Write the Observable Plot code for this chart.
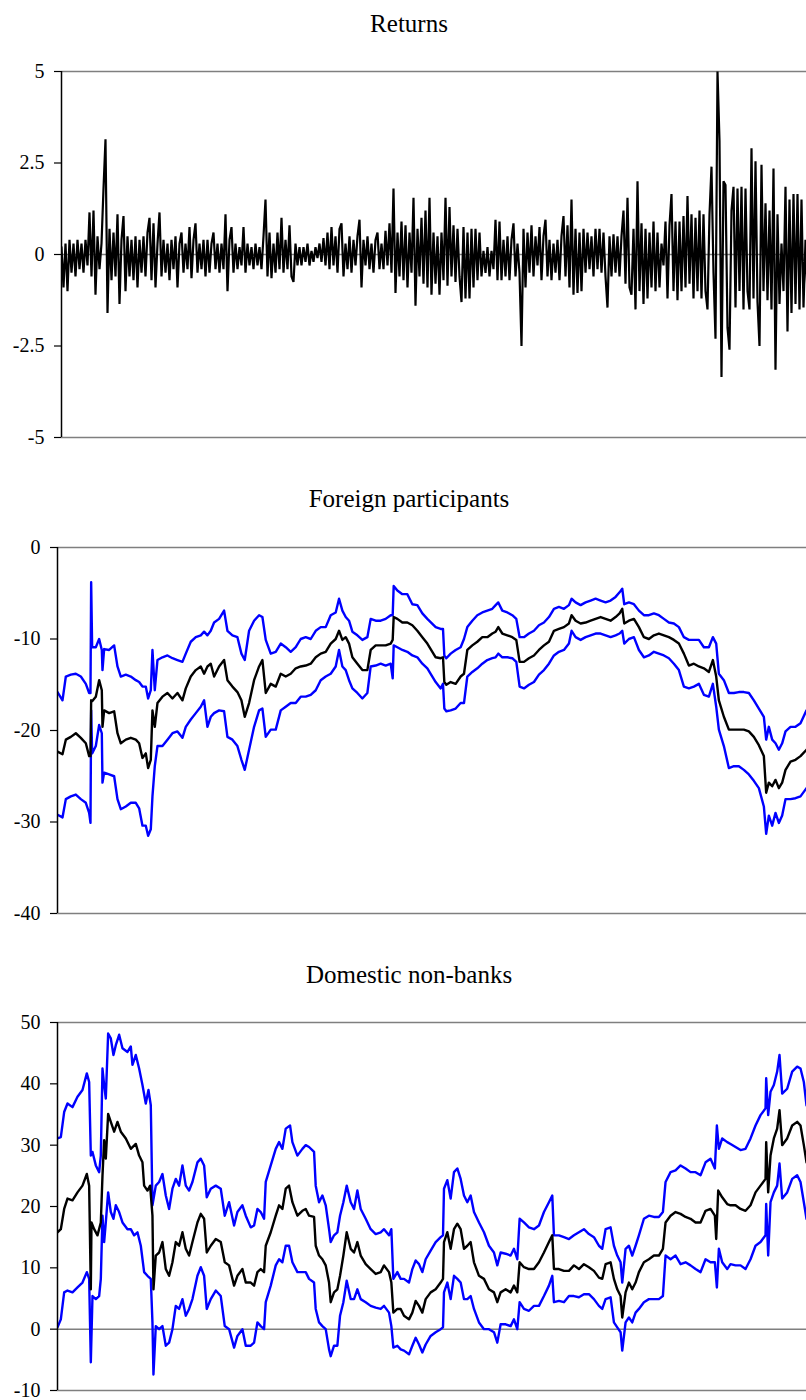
<!DOCTYPE html>
<html>
<head>
<meta charset="utf-8">
<script src="https://cdn.jsdelivr.net/npm/d3@7"></script>
<script src="https://cdn.jsdelivr.net/npm/@observablehq/plot@0.6"></script>
<style>
  html, body { margin: 0; padding: 0; background: #fff; }
  #wrap { position: relative; width: 806px; height: 1400px; overflow: hidden; background: #fff; }
  .title { position: absolute; left: 0; width: 818px; text-align: center; font-family: "Liberation Serif", "Times New Roman", serif; font-size: 25px; line-height: 25px; color: #000; }
  .panel { position: absolute; left: 0; }
</style>
</head>
<body>
<div id="wrap">
  <div class="title" style="top:11px">Returns</div>
  <div class="title" style="top:486px">Foreign participants</div>
  <div class="title" style="top:962px">Domestic non-banks</div>
  <div class="panel" id="p1" style="top:50px"></div>
  <div class="panel" id="p2" style="top:526px"></div>
  <div class="panel" id="p3" style="top:1001px"></div>
</div>
<script>
// ---------- DATA ----------
const titles = ["Returns", "Foreign participants", "Domestic non-banks"];

// Daily returns (observation index = position in array)
const returns = [
  0.2, -0.9, 0.3, -1.0, 0.4, -0.5, 0.3, -0.6, 0.4, -0.4,
  0.3, -0.5, 0.4, -0.3, 1.15, -0.6, 1.2, -1.1, 0.5, -0.4,
  0.3, 1.8, 3.15, -1.6, 0.7, -0.7, 0.6, -0.6, 1.1, -1.35,
  0.4, 1.05, -1.0, 0.5, -0.6, 0.4, -0.7, 0.5, -0.9, 0.4,
  -0.5, 0.5, -0.6, 0.6, 1.0, -0.7, 0.85, -0.9, 0.3, 1.15,
  -0.6, 0.4, -0.5, 0.3, -0.7, 0.4, -0.4, 0.5, -0.9, 0.3,
  0.6, -0.5, 0.3, -0.4, 0.75, -0.65, 0.4, 0.85, -0.5, 0.3,
  -0.4, 0.4, -0.6, 0.4, -0.5, 0.3, 0.6, -0.4, 0.3, -0.5,
  0.3, -0.4, 1.1, -1.0, 0.4, 0.75, -0.5, 0.3, -0.4, 0.2,
  -0.3, 0.75, -0.5, 0.3, -0.3, 0.2, -0.4, 0.3, -0.3, 0.2,
  -0.4, 0.5, 1.5, -0.6, 0.6, -0.65, 0.3, -0.5, 0.6, -0.4,
  1.0, -0.5, 0.4, -0.4, 0.8, -0.6, -0.75, 0.3, -0.3, 0.2,
  -0.3, 0.2, -0.2, 0.3, -0.3, 0.1, -0.2, 0.2, -0.1, 0.3,
  -0.2, 0.45, -0.3, 0.6, -0.4, 0.75, -0.3, 0.5, -0.5, 0.7,
  0.85, -0.6, 0.3, -0.4, 0.5, -0.5, 0.4, -0.3, 0.5, 0.95,
  -0.9, 0.4, -0.3, 0.5, -0.4, 0.3, -0.5, 0.4, 0.6, -0.4,
  0.3, -0.4, 0.65, -0.3, 0.85, -0.5, 1.8, -1.05, 0.6, -0.6,
  0.9, -0.7, 0.8, -0.9, 0.6, -0.5, 1.55, -1.4, 0.7, -0.6,
  1.0, -0.8, 1.2, -0.9, 1.55, -1.1, 0.6, -0.8, 0.5, -1.1,
  0.6, -0.7, 1.55, -0.85, 1.3, -0.6, 0.8, -0.75, 0.7, -0.6,
  -1.3, 0.75, -1.2, 0.6, -1.2, 0.7, -0.9, 0.7, -0.7, 0.6,
  -0.6, 0.1, -0.5, 0.2, -0.6, 0.1, -0.4, 0.95, -0.7, 0.9,
  -0.7, 0.4, -0.6, 0.5, -0.7, 0.4, 0.85, -0.6, 0.3, -0.5,
  -2.5, 0.7, -0.9, 0.6, -0.5, 0.8, -0.6, 0.5, -0.3, 0.75,
  -0.7, 0.5, 0.95, -0.6, 0.4, -0.7, 0.3, -0.5, 0.4, -0.7,
  0.5, 1.05, -0.6, 0.8, -0.9, 1.5, -1.1, 0.7, -1.05, 0.6,
  -1.0, 0.7, -0.5, 0.6, -0.4, 0.5, -0.6, 0.7, -0.4, 0.7,
  -0.5, 0.6, -0.6, -1.45, 0.5, -0.6, 0.55, -0.5, 0.5, -0.6,
  0.5, 1.2, -0.8, 1.55, -0.9, -1.1, 0.7, -1.5, 2.0, -1.0,
  0.85, -1.35, 0.7, -1.2, 0.6, -0.9, 0.9, -1.0, 0.6, -0.9,
  0.3, -0.3, 0.9, -1.2, 0.8, 1.65, -1.0, 0.9, -1.25, 0.9,
  -1.0, 1.05, -0.9, 1.6, -0.8, 1.1, -1.2, 1.0, -1.0, 1.2,
  -1.2, 1.1, -1.0, -1.5, 1.1, 2.4, -0.5, -2.3, 5.0, 3.1,
  -3.35, 2.0, 1.9, -2.0, -2.6, 1.2, 1.85, -1.45, 1.8, -1.0,
  1.85, -1.5, 1.8, -1.0, -1.5, 2.9, -1.2, 2.55, -1.3, -2.5,
  2.45, -1.0, 1.4, -1.25, 1.2, -1.5, 2.35, -3.15, 1.1, -1.35,
  0.3, -1.0, 1.85, -2.1, 1.5, -1.6, 1.65, -1.35, 1.65, -1.5, 1.5, -1.45, 0.4, -1.1
];

// Foreign participants: [day, value]
const foreignMid = [[0,-22.3],[15,-22.6],[25,-21.0],[40,-20.7],[55,-20.3],[70,-20.8],[85,-21.4],[95,-22.8],[99,-22.8],[101,-16.7],[104,-16.8],[115,-16.3],[125,-14.5],[133,-15.6],[135,-19.6],[140,-17.8],[155,-18.1],[170,-17.9],[180,-20.3],[190,-21.4],[205,-21.0],[220,-20.8],[235,-21.0],[245,-21.4],[255,-23.0],[265,-22.5],[272,-24.1],[280,-23.2],[285,-17.8],[292,-19.6],[300,-17.0],[315,-16.3],[330,-15.9],[345,-16.5],[360,-15.9],[375,-16.7],[385,-15.4],[400,-14.1],[415,-13.4],[430,-13.0],[440,-13.8],[450,-13.0],[460,-12.7],[470,-14.1],[485,-13.0],[500,-12.3],[510,-14.5],[525,-15.2],[540,-15.8],[552,-16.7],[562,-18.5],[575,-17.0],[590,-14.5],[605,-13.0],[615,-12.3],[625,-15.9],[640,-14.9],[655,-15.2],[670,-13.8],[685,-14.1],[700,-13.8],[715,-13.2],[730,-13.0],[745,-12.9],[760,-12.7],[775,-12.0],[790,-11.6],[805,-11.4],[820,-10.5],[835,-10.0],[845,-9.1],[855,-10.1],[865,-9.8],[875,-10.5],[885,-12.0],[900,-12.7],[915,-13.4],[930,-13.4],[940,-11.2],[955,-10.7],[970,-10.7],[985,-10.7],[1000,-10.5],[1006,-10.1],[1009,-7.6],[1020,-7.8],[1035,-8.2],[1050,-8.2],[1065,-8.5],[1080,-9.1],[1095,-9.8],[1110,-10.5],[1135,-12.0],[1150,-12.1],[1157,-12.0],[1161,-14.7],[1167,-15.0],[1180,-14.7],[1195,-14.9],[1210,-14.1],[1220,-13.8],[1230,-11.2],[1245,-10.7],[1260,-10.3],[1275,-9.8],[1290,-9.8],[1305,-9.4],[1315,-9.2],[1323,-8.7],[1335,-9.4],[1350,-9.6],[1365,-9.8],[1377,-10.1],[1387,-12.5],[1400,-12.5],[1415,-12.1],[1430,-11.8],[1445,-11.2],[1460,-10.7],[1475,-10.3],[1490,-9.1],[1505,-8.9],[1520,-8.7],[1535,-8.3],[1543,-7.4],[1555,-8.0],[1570,-8.3],[1585,-8.2],[1600,-8.0],[1615,-7.8],[1630,-7.6],[1645,-7.8],[1660,-8.0],[1675,-7.6],[1687,-7.2],[1695,-6.7],[1701,-8.3],[1715,-8.0],[1730,-7.8],[1745,-8.7],[1760,-9.8],[1775,-10.0],[1790,-9.6],[1805,-9.4],[1820,-9.6],[1835,-9.8],[1850,-10.1],[1865,-10.5],[1880,-11.6],[1895,-12.9],[1910,-12.7],[1925,-13.0],[1940,-13.2],[1955,-13.6],[1967,-12.3],[1977,-14.1],[1985,-16.7],[2000,-18.5],[2015,-19.9],[2030,-19.9],[2045,-19.9],[2060,-19.9],[2075,-20.1],[2090,-20.7],[2105,-21.6],[2120,-22.8],[2127,-26.8],[2135,-25.7],[2145,-26.1],[2155,-25.4],[2165,-26.3],[2175,-25.7],[2185,-24.3],[2200,-23.4],[2215,-23.2],[2230,-22.8],[2248,-22.1]];

const foreignUpper = [[0,-15.8],[15,-16.7],[25,-14.1],[40,-13.9],[55,-13.8],[70,-14.1],[85,-14.9],[95,-15.9],[99,-15.9],[101,-3.8],[104,-10.9],[115,-10.9],[125,-10.0],[133,-11.2],[135,-13.4],[140,-11.1],[155,-11.2],[170,-10.7],[180,-13.0],[190,-14.1],[205,-13.9],[220,-14.1],[235,-14.5],[245,-14.7],[255,-15.2],[265,-15.2],[272,-16.5],[280,-15.6],[285,-11.2],[292,-15.6],[300,-12.3],[315,-12.0],[330,-11.8],[345,-12.1],[360,-12.3],[375,-12.5],[385,-11.6],[400,-10.3],[415,-9.8],[430,-9.6],[440,-9.2],[450,-9.6],[460,-9.1],[470,-8.2],[485,-7.8],[500,-6.9],[510,-9.1],[525,-9.6],[540,-9.8],[552,-11.6],[562,-12.3],[575,-9.1],[590,-8.0],[605,-7.4],[615,-7.6],[625,-10.1],[640,-11.6],[655,-11.4],[670,-10.5],[685,-10.9],[700,-11.4],[715,-10.9],[730,-10.0],[745,-9.8],[760,-10.0],[775,-9.1],[790,-8.7],[805,-8.7],[820,-7.4],[835,-7.1],[845,-5.6],[855,-6.9],[865,-7.6],[875,-8.0],[885,-9.2],[900,-9.6],[915,-10.1],[930,-9.8],[940,-7.8],[955,-8.0],[970,-8.0],[985,-7.8],[1000,-7.4],[1006,-7.4],[1009,-4.2],[1020,-4.7],[1035,-5.1],[1050,-5.1],[1065,-6.2],[1080,-6.3],[1095,-7.2],[1110,-7.8],[1135,-8.7],[1150,-8.9],[1157,-8.9],[1161,-11.8],[1167,-12.1],[1180,-11.6],[1195,-11.2],[1210,-10.9],[1220,-10.0],[1230,-8.7],[1245,-8.0],[1260,-7.4],[1275,-7.1],[1290,-6.9],[1305,-6.7],[1315,-6.3],[1323,-6.0],[1335,-6.9],[1350,-7.1],[1365,-7.4],[1377,-7.8],[1387,-9.8],[1400,-9.8],[1415,-9.4],[1430,-9.1],[1445,-8.5],[1460,-8.2],[1475,-7.6],[1490,-6.7],[1505,-6.5],[1520,-6.7],[1535,-6.3],[1543,-5.6],[1555,-6.0],[1570,-6.3],[1585,-6.0],[1600,-5.8],[1615,-5.6],[1630,-5.8],[1645,-6.0],[1660,-5.8],[1675,-5.4],[1687,-4.9],[1695,-4.5],[1701,-6.2],[1715,-6.0],[1730,-6.2],[1745,-6.9],[1760,-7.4],[1775,-7.4],[1790,-7.2],[1805,-7.4],[1820,-7.8],[1835,-8.2],[1850,-8.3],[1865,-8.7],[1880,-9.8],[1895,-10.1],[1910,-10.1],[1925,-10.1],[1940,-10.9],[1955,-10.9],[1967,-9.8],[1977,-10.5],[1985,-13.8],[2000,-14.5],[2015,-15.9],[2030,-15.9],[2045,-15.8],[2060,-15.8],[2075,-15.9],[2090,-16.7],[2105,-17.6],[2120,-18.5],[2127,-21.0],[2135,-19.6],[2145,-21.0],[2155,-21.4],[2165,-22.1],[2175,-21.4],[2185,-20.1],[2200,-19.6],[2215,-19.6],[2230,-19.2],[2248,-17.8]];

const foreignLower = [[0,-29.2],[15,-29.5],[25,-27.5],[40,-27.2],[55,-27.0],[70,-27.5],[85,-27.9],[95,-29.0],[99,-30.1],[101,-17.8],[104,-22.5],[115,-21.7],[125,-19.4],[133,-20.3],[135,-25.7],[140,-24.6],[155,-24.8],[170,-25.0],[180,-27.5],[190,-28.6],[205,-28.3],[220,-27.9],[235,-27.9],[245,-28.5],[255,-30.4],[265,-30.4],[272,-31.5],[280,-30.8],[285,-27.2],[292,-23.9],[300,-21.7],[315,-21.7],[330,-21.0],[345,-20.3],[360,-20.1],[375,-20.8],[385,-19.6],[400,-18.8],[415,-18.1],[430,-17.4],[440,-16.7],[450,-19.6],[460,-18.5],[470,-18.1],[485,-17.8],[500,-17.9],[510,-20.7],[525,-21.0],[540,-21.7],[552,-23.2],[562,-24.3],[575,-22.1],[590,-19.6],[605,-17.8],[615,-17.6],[625,-20.7],[640,-19.9],[655,-19.9],[670,-17.8],[685,-17.4],[700,-17.0],[715,-17.0],[730,-16.3],[745,-16.3],[760,-16.1],[775,-15.6],[790,-14.5],[805,-14.1],[820,-13.8],[835,-13.0],[845,-11.2],[855,-13.0],[865,-13.4],[875,-14.5],[885,-15.4],[900,-15.9],[915,-16.5],[930,-15.9],[940,-13.0],[955,-12.9],[970,-12.7],[985,-12.9],[1000,-12.7],[1006,-14.3],[1009,-10.7],[1020,-10.9],[1035,-11.2],[1050,-11.4],[1065,-11.8],[1080,-12.0],[1095,-12.7],[1110,-13.2],[1135,-14.7],[1150,-15.4],[1157,-14.9],[1161,-17.6],[1167,-17.9],[1180,-17.8],[1195,-17.6],[1210,-17.0],[1220,-17.0],[1230,-14.1],[1245,-13.6],[1260,-13.2],[1275,-12.7],[1290,-12.3],[1305,-12.1],[1315,-12.0],[1323,-11.6],[1335,-12.0],[1350,-12.0],[1365,-12.1],[1377,-12.5],[1387,-15.2],[1400,-15.4],[1415,-15.0],[1430,-14.7],[1445,-13.9],[1460,-13.4],[1475,-12.7],[1490,-11.8],[1505,-11.4],[1520,-11.2],[1535,-10.5],[1543,-9.1],[1555,-9.8],[1570,-10.1],[1585,-9.8],[1600,-9.6],[1615,-9.4],[1630,-9.4],[1645,-9.6],[1660,-9.8],[1675,-9.6],[1687,-9.4],[1695,-9.1],[1701,-10.5],[1715,-10.0],[1730,-9.8],[1745,-11.2],[1760,-12.0],[1775,-11.8],[1790,-11.4],[1805,-11.6],[1820,-11.8],[1835,-12.1],[1850,-12.7],[1865,-13.4],[1880,-15.2],[1895,-15.4],[1910,-15.2],[1925,-14.9],[1940,-16.1],[1955,-16.3],[1967,-14.9],[1977,-17.4],[1985,-19.9],[2000,-21.7],[2015,-24.1],[2030,-23.9],[2045,-23.9],[2060,-24.3],[2075,-24.8],[2090,-25.5],[2105,-26.3],[2120,-28.3],[2127,-31.3],[2135,-29.3],[2145,-30.4],[2155,-29.0],[2165,-30.1],[2175,-29.3],[2185,-27.5],[2200,-27.5],[2215,-27.4],[2230,-27.2],[2248,-26.3]];

// Domestic non-banks: [day, value]
const domesticMid = [[0,15.8],[10,16.3],[20,19.6],[30,21.3],[45,21.0],[60,22.3],[75,23.4],[88,25.3],[95,23.4],[100,6.5],[102,17.4],[110,16.3],[120,15.3],[130,17.4],[135,25.0],[140,30.8],[145,27.8],[152,35.1],[160,33.8],[170,32.2],[180,33.8],[190,32.2],[205,31.1],[220,29.4],[235,30.2],[245,28.3],[255,27.2],[260,23.4],[270,22.6],[278,23.4],[285,18.5],[288,6.5],[295,12.0],[305,12.5],[315,14.2],[325,9.8],[335,8.7],[345,10.9],[355,14.2],[365,13.6],[375,15.8],[385,13.1],[395,12.0],[405,14.2],[420,17.4],[430,18.8],[440,18.0],[448,12.5],[460,13.6],[475,14.7],[490,14.2],[502,10.9],[515,10.4],[530,7.1],[540,8.7],[555,9.8],[565,7.6],[580,7.6],[590,7.1],[600,9.3],[610,9.8],[620,9.3],[625,13.6],[640,15.8],[655,18.5],[665,20.2],[675,19.6],[685,22.9],[695,23.4],[705,20.7],[720,18.5],[735,19.3],[745,19.6],[755,18.5],[770,18.3],[775,13.6],[785,12.0],[795,11.4],[805,10.4],[815,7.6],[820,4.4],[830,6.0],[840,6.5],[848,8.7],[858,12.0],[868,15.8],[880,13.1],[890,12.5],[900,14.2],[910,12.0],[925,10.6],[940,9.8],[955,9.0],[970,9.3],[980,10.4],[995,9.3],[1002,7.6],[1008,2.7],[1020,3.3],[1030,3.3],[1040,2.2],[1055,1.6],[1065,2.7],[1075,4.6],[1085,3.8],[1095,2.7],[1105,4.9],[1120,6.0],[1135,6.5],[1150,7.6],[1157,8.2],[1160,14.2],[1170,15.8],[1180,13.1],[1190,16.3],[1200,17.2],[1210,16.3],[1220,13.1],[1230,13.6],[1240,14.2],[1250,10.9],[1265,8.7],[1280,8.2],[1295,6.5],[1310,6.0],[1320,4.4],[1330,6.0],[1345,6.5],[1360,6.0],[1370,7.1],[1380,6.0],[1387,10.9],[1400,10.1],[1415,9.8],[1430,9.8],[1445,10.9],[1460,12.5],[1475,14.2],[1485,15.3],[1490,9.8],[1505,9.8],[1520,9.5],[1535,9.5],[1550,10.4],[1565,9.8],[1580,10.6],[1595,10.1],[1610,9.5],[1625,8.4],[1635,8.2],[1645,10.6],[1660,10.9],[1670,8.2],[1680,6.5],[1690,5.4],[1695,1.9],[1705,6.0],[1715,7.6],[1725,6.5],[1735,7.6],[1745,9.3],[1760,10.9],[1775,11.4],[1790,12.0],[1805,12.0],[1817,13.1],[1825,17.4],[1840,18.5],[1855,19.1],[1870,18.8],[1885,18.3],[1900,18.0],[1915,17.4],[1930,17.4],[1945,19.3],[1960,19.6],[1973,18.5],[1977,14.7],[1983,22.6],[1995,21.5],[2010,20.4],[2020,20.2],[2035,20.2],[2050,19.6],[2065,19.3],[2080,20.2],[2095,22.3],[2110,23.4],[2125,24.5],[2127,30.5],[2133,22.3],[2140,28.3],[2150,31.1],[2160,32.7],[2167,35.7],[2175,30.0],[2190,31.1],[2205,33.2],[2220,33.8],[2230,33.2],[2240,30.0],[2248,27.2]];

const domesticUpper = [[0,31.1],[10,31.3],[20,35.4],[30,36.8],[45,36.2],[60,37.9],[75,39.0],[88,41.7],[95,40.3],[100,28.3],[105,28.9],[115,26.7],[125,25.6],[130,28.3],[135,42.5],[140,39.8],[145,37.6],[152,48.2],[160,47.4],[168,44.7],[175,46.3],[185,48.0],[195,45.8],[210,45.2],[220,46.1],[225,43.1],[235,44.7],[245,42.5],[255,39.8],[265,36.8],[273,39.0],[280,36.5],[285,20.2],[295,23.4],[305,24.0],[315,25.3],[325,21.8],[335,19.6],[345,22.9],[355,24.5],[365,23.4],[375,26.7],[385,23.4],[395,22.6],[405,24.0],[420,27.2],[430,27.8],[440,26.7],[448,21.5],[460,22.9],[475,23.4],[490,22.9],[502,18.5],[515,20.7],[530,16.9],[540,19.1],[555,20.2],[565,18.5],[580,16.6],[590,16.9],[600,19.6],[610,19.1],[620,18.0],[625,24.0],[640,26.7],[655,29.4],[665,30.5],[675,29.4],[685,32.7],[698,33.2],[705,30.5],[720,28.3],[735,29.4],[745,30.0],[755,29.7],[770,28.9],[775,23.4],[785,20.7],[795,21.8],[805,20.2],[815,16.3],[820,14.2],[830,15.3],[840,15.8],[848,18.5],[858,20.7],[868,23.4],[880,20.7],[890,19.6],[900,22.6],[910,19.6],[925,18.0],[940,16.3],[955,15.5],[970,15.8],[980,16.3],[995,15.3],[1002,16.3],[1008,8.2],[1020,9.3],[1030,8.2],[1040,8.2],[1055,7.6],[1065,9.8],[1075,11.2],[1085,10.6],[1095,9.3],[1105,11.4],[1120,12.8],[1135,14.2],[1150,15.0],[1157,15.3],[1160,22.9],[1170,24.3],[1180,21.3],[1190,25.6],[1200,26.2],[1210,24.5],[1220,21.8],[1230,20.7],[1240,21.8],[1250,19.1],[1265,17.4],[1280,15.8],[1295,13.6],[1310,12.5],[1320,10.4],[1330,12.5],[1345,12.3],[1360,12.0],[1370,13.1],[1380,11.4],[1387,18.0],[1400,17.4],[1415,16.6],[1430,16.3],[1445,16.9],[1460,19.1],[1475,20.7],[1485,21.8],[1490,15.3],[1505,15.3],[1520,15.0],[1535,14.7],[1550,15.3],[1565,15.8],[1580,16.3],[1595,15.5],[1610,15.0],[1625,13.6],[1635,13.1],[1645,16.3],[1660,16.6],[1670,13.6],[1680,12.0],[1690,10.9],[1695,7.6],[1705,13.1],[1715,13.6],[1725,12.0],[1735,13.6],[1745,15.3],[1760,18.0],[1775,18.5],[1790,18.3],[1805,18.3],[1817,19.1],[1825,24.0],[1840,25.6],[1855,25.9],[1870,26.7],[1885,26.2],[1900,25.6],[1915,25.6],[1930,25.1],[1945,27.2],[1960,27.8],[1973,26.2],[1979,33.2],[1985,29.4],[1995,31.1],[2010,30.5],[2020,30.2],[2035,29.7],[2050,29.2],[2065,29.4],[2080,31.1],[2095,33.2],[2110,34.9],[2125,36.0],[2127,40.9],[2133,34.9],[2140,38.7],[2150,39.8],[2160,42.0],[2167,44.7],[2175,38.4],[2190,39.2],[2205,42.0],[2220,42.8],[2230,42.5],[2240,40.3],[2248,36.5]];

const domesticLower = [[0,0.3],[10,1.6],[20,6.0],[30,6.3],[45,6.0],[60,6.8],[75,7.6],[88,9.3],[95,8.2],[100,-5.4],[105,5.4],[115,4.9],[125,5.4],[130,8.2],[135,18.5],[140,14.2],[145,17.4],[152,22.3],[160,19.1],[168,18.0],[175,20.2],[185,19.1],[195,17.4],[210,16.3],[220,16.3],[230,15.3],[240,15.8],[250,13.6],[260,9.3],[270,8.7],[280,8.2],[285,1.1],[288,-7.4],[295,0.5],[305,0],[315,0.5],[325,-2.7],[335,-2.2],[345,0],[355,3.8],[365,3.3],[375,4.9],[385,2.2],[395,3.3],[405,4.9],[420,8.7],[430,10.1],[440,8.7],[448,3.3],[460,4.9],[475,6.3],[490,5.4],[502,0.5],[515,0],[530,-3.0],[540,-1.1],[555,0],[565,-2.7],[580,-2.7],[590,-2.2],[600,1.1],[610,0.5],[620,0],[625,4.4],[640,7.1],[655,10.4],[665,11.4],[675,10.9],[685,13.6],[695,13.6],[705,10.9],[720,9.3],[735,9.3],[745,9.3],[755,8.2],[770,7.6],[775,3.3],[785,1.1],[795,0.5],[805,0],[815,-3.3],[820,-4.4],[830,-2.7],[840,-2.7],[848,2.2],[858,4.4],[868,7.9],[880,4.9],[890,4.9],[900,6.5],[910,4.9],[925,4.4],[940,3.8],[955,3.5],[970,3.3],[980,3.8],[995,2.7],[1002,0.5],[1008,-3.0],[1020,-2.7],[1030,-3.3],[1040,-3.5],[1055,-4.1],[1065,-2.7],[1075,-1.4],[1085,-2.5],[1095,-3.8],[1105,-2.5],[1120,-1.1],[1135,-0.5],[1150,0],[1157,0.3],[1160,6.0],[1170,7.6],[1180,4.9],[1190,8.7],[1200,8.2],[1210,7.6],[1220,4.9],[1230,4.9],[1240,5.4],[1250,3.3],[1265,1.1],[1280,0],[1295,0],[1310,-0.5],[1320,-2.2],[1330,0.8],[1345,0.8],[1360,0.5],[1370,1.6],[1380,0],[1387,4.4],[1400,3.3],[1415,3.0],[1430,3.8],[1445,3.8],[1460,5.4],[1475,7.1],[1485,8.7],[1490,4.4],[1505,4.6],[1520,4.4],[1535,5.4],[1550,5.4],[1565,5.2],[1580,5.7],[1595,5.7],[1610,4.9],[1625,3.8],[1635,3.3],[1645,4.9],[1660,5.2],[1670,1.1],[1680,0.3],[1690,-0.5],[1695,-3.5],[1705,1.1],[1715,1.9],[1725,1.1],[1735,2.7],[1745,3.3],[1760,4.4],[1775,4.9],[1790,4.9],[1805,4.9],[1817,5.4],[1825,12.0],[1840,11.4],[1855,12.0],[1870,10.6],[1885,10.9],[1900,10.4],[1915,9.8],[1930,9.3],[1945,11.4],[1960,10.9],[1973,10.9],[1979,6.8],[1985,13.1],[1995,10.9],[2010,9.8],[2020,10.6],[2035,10.4],[2050,10.4],[2065,9.8],[2080,11.4],[2095,13.6],[2110,14.2],[2125,15.3],[2127,20.4],[2133,12.0],[2140,20.7],[2150,22.3],[2160,23.4],[2167,27.0],[2175,21.3],[2190,22.3],[2205,24.5],[2220,25.1],[2230,24.0],[2240,20.7],[2248,18.0]];

// Axis ticks
const returnsTicks = [-5, -2.5, 0, 2.5, 5];
const foreignTicks = [-40, -30, -20, -10, 0];
const domesticTicks = [-10, 0, 10, 20, 30, 40, 50];
const lastDay = 2248;
const lastReturnIndex = 372.5;

// ---------- DRAWING ----------
const FONT = "'Liberation Serif', 'Times New Roman', serif";
const GRID = "#7f7f7f";

function panel({yDomain, ticks, marginLeft, height, plotHeight, xDomain, marks, frameTop, frameBottom, zero}) {
  return Plot.plot({
    width: 806,
    height,
    marginLeft,
    marginRight: 0,
    marginTop: 21,
    marginBottom: height - 21 - plotHeight,
    style: {fontFamily: FONT, fontSize: "20px", color: "#000", background: "transparent", overflow: "visible"},
    x: {domain: xDomain, axis: null},
    y: {domain: yDomain, axis: null},
    marks: [
      Plot.ruleY([frameTop, frameBottom], {stroke: GRID, strokeWidth: 1.5}),
      zero ? Plot.ruleY([0], {stroke: GRID, strokeWidth: 1.5}) : null,
      ...marks,
      Plot.axisY({ticks, tickSize: 7, tickPadding: 10, tickFormat: d => String(d), fontSize: 20, stroke: "#000", strokeWidth: 1.2}),
      Plot.ruleX([xDomain[0]], {stroke: "#000", strokeWidth: 1.5})
    ]
  });
}

document.getElementById("p1").appendChild(panel({
  yDomain: [-5, 5], ticks: returnsTicks, marginLeft: 61, height: 397, plotHeight: 366,
  xDomain: [0, lastReturnIndex], frameTop: 5, frameBottom: -5, zero: true,
  marks: [
    Plot.line(returns, {x: (d, i) => i, y: d => d, stroke: "#000", strokeWidth: 2.2, strokeLinejoin: "miter", strokeMiterlimit: 2, clip: true})
  ]
}));

document.getElementById("p2").appendChild(panel({
  yDomain: [-40, 0], ticks: foreignTicks, marginLeft: 57, height: 397, plotHeight: 366,
  xDomain: [0, lastDay], frameTop: 0, frameBottom: -40, zero: false,
  marks: [
    Plot.line(foreignUpper, {x: d => d[0], y: d => d[1], stroke: "#0000ff", strokeWidth: 2.4, clip: true}),
    Plot.line(foreignLower, {x: d => d[0], y: d => d[1], stroke: "#0000ff", strokeWidth: 2.4, clip: true}),
    Plot.line(foreignMid, {x: d => d[0], y: d => d[1], stroke: "#000", strokeWidth: 2.4, clip: true})
  ]
}));

document.getElementById("p3").appendChild(panel({
  yDomain: [-10, 50], ticks: domesticTicks, marginLeft: 57, height: 399, plotHeight: 368,
  xDomain: [0, lastDay], frameTop: 50, frameBottom: -10, zero: true,
  marks: [
    Plot.line(domesticUpper, {x: d => d[0], y: d => d[1], stroke: "#0000ff", strokeWidth: 2.4, clip: true}),
    Plot.line(domesticLower, {x: d => d[0], y: d => d[1], stroke: "#0000ff", strokeWidth: 2.4, clip: true}),
    Plot.line(domesticMid, {x: d => d[0], y: d => d[1], stroke: "#000", strokeWidth: 2.4, clip: true})
  ]
}));
</script>
</body>
</html>
